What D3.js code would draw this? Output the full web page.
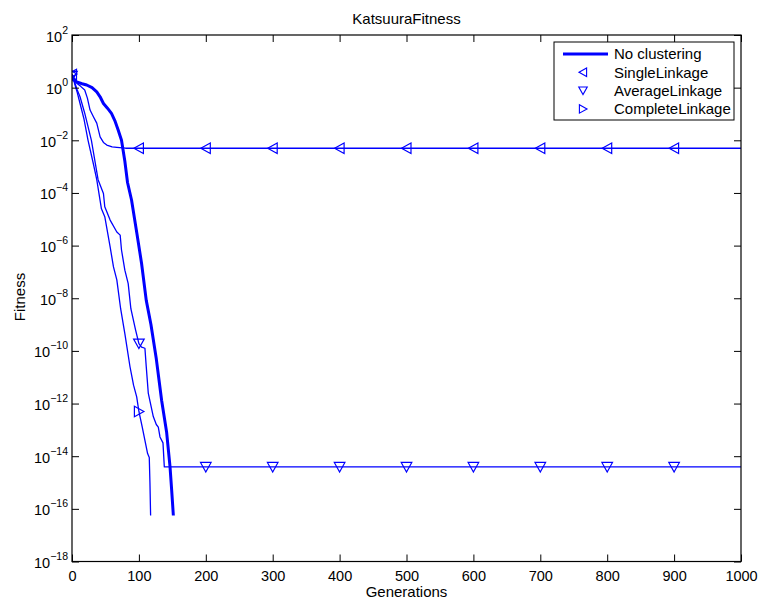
<!DOCTYPE html>
<html>
<head>
<meta charset="utf-8">
<script src="https://cdn.jsdelivr.net/npm/d3@7"></script>
<style>
  html, body { margin: 0; padding: 0; background: #fff; }
  svg { display: block; font-family: "Liberation Sans", Arial, Helvetica, sans-serif; }
</style>
</head>
<body>
<svg id="chart" width="761" height="602"></svg>
<script>
// KatsuuraFitness: best fitness per generation for each clustering mode
const xTicks = [0, 100, 200, 300, 400, 500, 600, 700, 800, 900, 1000];
const yTickExponents = [2, 0, -2, -4, -6, -8, -10, -12, -14, -16, -18];

const noClusterGen = [0, 3, 7, 15, 22, 30, 37, 42, 47, 53, 59, 64, 69, 74, 79, 83, 89, 97, 104, 111, 118, 126, 134, 141.5, 146.5, 149, 151.5];
const noClusterFit = [2.82, 2.0, 1.66, 1.41, 1.26, 1.0, 0.69, 0.45, 0.25, 0.166, 0.105, 0.056, 0.0245, 0.01, 1.6e-3, 2.5e-4, 5.4e-5, 2.9e-6, 2.1e-7, 8.3e-9, 1.0e-9, 5.0e-11, 1.3e-12, 7.9e-14, 4.0e-15, 5.0e-16, 5.6e-17];

const singleGen = [0, 3, 8, 13, 19, 23, 27, 32, 37, 42, 47, 52, 60, 67, 80, 100, 200, 300, 400, 500, 600, 700, 800, 900, 1000];
const singleFit = [3.16, 2.0, 1.41, 1.12, 0.81, 0.40, 0.141, 0.079, 0.045, 0.0135, 0.0083, 0.0066, 0.0056, 0.0054, 0.005, 0.005, 0.005, 0.005, 0.005, 0.005, 0.005, 0.005, 0.005, 0.005, 0.005];

const averageGen = [0, 4, 8, 12, 19, 29, 39, 47, 49, 57, 67, 72, 74, 79, 84, 88, 95, 100, 104, 109, 111, 114, 121.5, 126, 129, 131.5, 136, 138, 200, 300, 400, 500, 600, 700, 800, 900, 1000];
const averageFit = [2.82, 1.6, 0.79, 0.45, 0.107, 0.01, 3.2e-4, 9.5e-5, 3.0e-5, 9.3e-6, 3.3e-6, 2.5e-6, 6.8e-7, 1.17e-7, 3.6e-8, 4.0e-9, 6.3e-10, 1.9e-10, 1.4e-10, 1.26e-10, 2.5e-11, 2.5e-12, 3.2e-13, 1.6e-13, 1.26e-13, 5.4e-14, 3.2e-14, 3.9e-15, 3.9e-15, 3.9e-15, 3.9e-15, 3.9e-15, 3.9e-15, 3.9e-15, 3.9e-15, 3.9e-15, 3.9e-15];

const completeGen = [0, 4, 8, 12, 18, 24, 32, 37, 44, 49, 57, 62, 67, 72.7, 79, 86.7, 92, 96.7, 100, 105, 109, 113, 115.5, 116.5, 117.5];
const completeFit = [3.3, 1.41, 0.63, 0.25, 0.063, 0.01, 1.26e-3, 3.2e-4, 2.5e-5, 1.26e-5, 8.9e-7, 1.55e-7, 5.0e-8, 4.0e-9, 4.5e-10, 2.5e-11, 5.0e-12, 1.8e-12, 5.0e-13, 1.26e-13, 4.0e-14, 1.26e-14, 8.9e-15, 1.0e-15, 5.6e-17];

const seriesNames = ["No clustering", "SingleLinkage", "AverageLinkage", "CompleteLinkage"];

const series = [
  { name: seriesNames[0], gen: noClusterGen, fit: noClusterFit, width: 3, marker: null },
  { name: seriesNames[1], gen: singleGen, fit: singleFit, width: 1.3, marker: "left" },
  { name: seriesNames[2], gen: averageGen, fit: averageFit, width: 1.3, marker: "down" },
  { name: seriesNames[3], gen: completeGen, fit: completeFit, width: 1.3, marker: "right" }
];

const blue = "#0000ff";
const font = 14.5;
const plot = { left: 72, right: 741, top: 35, bottom: 561.5 };

const svg = d3.select("#chart");

const x = d3.scaleLinear().domain([0, 1000]).range([plot.left, plot.right]);
const y = d3.scaleLog().domain([1e-18, 1e2]).range([plot.bottom, plot.top]);

// triangle marker shapes, unfilled
const markerPath = {
  left:  "M-5,0L4.5,-5.3L4.5,5.3Z",
  right: "M5,0L-4.5,-5.3L-4.5,5.3Z",
  down:  "M-5.3,-4.5L5.3,-4.5L0,5Z"
};

// plot lines (clipped to axes box)
svg.append("clipPath").attr("id", "clip")
  .append("rect").attr("x", plot.left).attr("y", plot.top)
  .attr("width", plot.right - plot.left).attr("height", plot.bottom - plot.top);

const line = d3.line().x(d => x(d[0])).y(d => y(d[1]));
const g = svg.append("g").attr("clip-path", "url(#clip)");

// draw thin series first, thick one on top
[series[3], series[2], series[1], series[0]].forEach(s => {
  const pts = s.gen.map((v, i) => [v, s.fit[i]]);
  g.append("path").datum(pts)
    .attr("d", line)
    .attr("fill", "none")
    .attr("stroke", blue)
    .attr("stroke-width", s.width)
    .attr("stroke-linejoin", "round");
  if (s.marker) {
    g.selectAll(null).data(pts.filter(p => p[0] % 100 === 0 && p[0] < 1000))
      .enter().append("path")
      .attr("d", markerPath[s.marker])
      .attr("transform", p => `translate(${x(p[0])},${y(p[1])})`)
      .attr("fill", "none")
      .attr("stroke", blue)
      .attr("stroke-width", 1.2);
  }
});

// axes: ticks point inward on all four sides
const tick = 7;
const yTickVals = yTickExponents.map(e => Math.pow(10, e));

svg.append("g").attr("transform", `translate(0,${plot.bottom})`)
  .call(d3.axisBottom(x).tickValues(xTicks).tickSize(-tick).tickPadding(9).tickFormat(d3.format("d")))
  .call(a => a.select(".domain").remove())
  .call(a => a.selectAll("text").attr("font-size", font).attr("font-family", null).attr("fill", "#000"));

svg.append("g").attr("transform", `translate(0,${plot.top})`)
  .call(d3.axisTop(x).tickValues(xTicks).tickSize(-tick).tickFormat(""))
  .call(a => a.select(".domain").remove());

svg.append("g").attr("transform", `translate(${plot.left},0)`)
  .call(d3.axisLeft(y).tickValues(yTickVals).tickSize(-tick).tickFormat(""))
  .call(a => a.select(".domain").remove());

svg.append("g").attr("transform", `translate(${plot.right},0)`)
  .call(d3.axisRight(y).tickValues(yTickVals).tickSize(-tick).tickFormat(""))
  .call(a => a.select(".domain").remove());

svg.selectAll(".tick line").attr("stroke", "#000").attr("stroke-width", 1);

// y tick labels as powers of ten
const yLab = svg.append("g");
yTickExponents.forEach(e => {
  const t = yLab.append("text")
    .attr("x", plot.left - 4)
    .attr("y", y(Math.pow(10, e)) + 6.5)
    .attr("text-anchor", "end")
    .attr("font-size", font)
    .attr("fill", "#000");
  t.append("tspan").text("10");
  t.append("tspan").attr("font-size", 10.5).attr("dy", -8)
    .text(e < 0 ? "\u2212" + (-e) : String(e));
});

// box
svg.append("rect")
  .attr("x", plot.left).attr("y", plot.top)
  .attr("width", plot.right - plot.left).attr("height", plot.bottom - plot.top)
  .attr("fill", "none").attr("stroke", "#000").attr("stroke-width", 1.2);

// title and axis labels
svg.append("text").attr("x", (plot.left + plot.right) / 2).attr("y", 23.5)
  .attr("text-anchor", "middle").attr("font-size", 15).text("KatsuuraFitness");
svg.append("text").attr("x", (plot.left + plot.right) / 2).attr("y", 597)
  .attr("text-anchor", "middle").attr("font-size", 15).text("Generations");
svg.append("text").attr("transform", "translate(25,297) rotate(-90)")
  .attr("text-anchor", "middle").attr("font-size", 15).text("Fitness");

// legend
const lg = svg.append("g").attr("transform", "translate(554,42)");
lg.append("rect").attr("width", 180).attr("height", 78)
  .attr("fill", "#fff").attr("stroke", "#000").attr("stroke-width", 1);
series.forEach((s, i) => {
  const cy = 12 + i * 18.3;
  if (s.marker) {
    lg.append("path").attr("d", markerPath[s.marker])
      .attr("transform", `translate(29,${cy}) scale(0.8)`)
      .attr("fill", "none").attr("stroke", blue).attr("stroke-width", 1.4);
  } else {
    lg.append("line").attr("x1", 9).attr("x2", 54).attr("y1", cy).attr("y2", cy)
      .attr("stroke", blue).attr("stroke-width", s.width);
  }
  lg.append("text").attr("x", 60).attr("y", cy + 5.3)
    .attr("font-size", 15).text(s.name);
});
</script>
</body>
</html>
